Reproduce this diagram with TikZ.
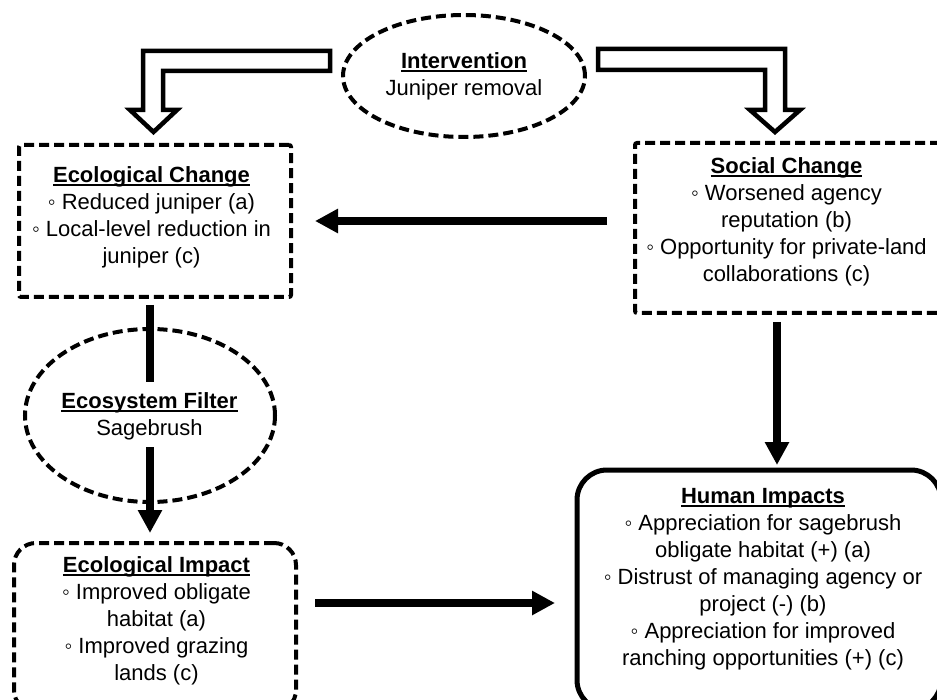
\documentclass[tikz,border=0pt]{standalone}
\usepackage{fontspec}
\setmainfont{Liberation Sans}
\usetikzlibrary{arrows.meta,shapes.geometric}
\newcommand\ttl[1]{\setbox0\hbox{\bfseries #1}\rlap{\rule[-3.5pt]{\wd0}{1.8pt}}\box0}
\begin{document}
\begin{tikzpicture}[x=1pt,y=-1pt,
  every node/.style={inner sep=0pt, outer sep=0pt},
  txt/.style={align=center, font=\fontsize{22}{27}\selectfont},
  dashline/.style={line width=4pt, dash pattern=on 10pt off 5pt},
  dbox/.style={draw, dashline, rectangle, rounded corners=2pt},
  dround/.style={draw, dashline, rectangle, rounded corners=22pt},
  dell/.style={draw, dashline, ellipse},
  sbox/.style={draw, line width=5pt, rectangle, rounded corners=30pt},
  arr/.style={line width=8pt, -{Triangle[length=23pt,width=23pt]}},
  bar/.style={line width=8pt},
  hollow/.style={draw, line width=4.5pt, fill=white, line join=miter}]
\clip (0,0) rectangle (937,700);
\fill[white] (0,0) rectangle (937,700);

% shapes
\node[dell, minimum width=242pt, minimum height=122pt] (intv) at (464,76) {};
\node[dbox, minimum width=272pt, minimum height=152pt] (ecoch) at (155,221) {};
\node[dbox, minimum width=307pt, minimum height=170pt] (social) at (788.5,228) {};
\node[dell, minimum width=250pt, minimum height=173pt] (filter) at (150,415.5) {};
\node[dround, minimum width=282pt, minimum height=169pt] (ecoimp) at (155,627.5) {};
\node[sbox, minimum width=364pt, minimum height=240pt] (human) at (759,590) {};

% texts
\node[txt] (intvt) at (464,76.3) {\ttl{Intervention}\\Juniper removal};
\node[txt] (ecocht) at (151.5,217) {\ttl{Ecological Change}\\◦ Reduced juniper (a)\\◦ Local-level reduction in\\juniper (c)};
\node[txt] (socialt) at (786.5,222) {\ttl{Social Change}\\◦ Worsened agency\\reputation (b)\\◦ Opportunity for private-land\\collaborations (c)};
\node[txt] (filtert) at (149.5,416) {\ttl{Ecosystem Filter}\\Sagebrush};
\node[txt] (ecoimpt) at (156.5,621) {\ttl{Ecological Impact}\\◦ Improved obligate\\habitat (a)\\◦ Improved grazing\\lands (c)};
\node[txt] (humant) at (763,579) {\ttl{Human Impacts}\\◦ Appreciation for sagebrush\\obligate habitat (+) (a)\\◦ Distrust of managing agency or\\project (-) (b)\\◦ Appreciation for improved\\ranching opportunities (+) (c)};

% hollow arrows from the intervention
\draw[hollow] (330,51) -- (143,51) -- (143,110) -- (130,110) -- (153.5,132) -- (177,110) -- (163,110) -- (163,71) -- (330,71) -- cycle;
\draw[hollow] (598,49) -- (785,49) -- (785,110) -- (800,110) -- (775,132) -- (750,110) -- (765,110) -- (765,70) -- (598,70) -- cycle;

% solid connectors
\draw[arr, shorten <=28pt, shorten >=24pt] (social.west |- ecoch.east) -- (ecoch.east);
\draw[bar, shorten <=8pt] (ecoch.south -| filter.north) -- ([yshift=-53pt]filter.north);
\draw[arr, shorten >=10pt] ([yshift=55pt]filter.south) -- (ecoimp.north -| filter.south);
\coordinate (sx) at (777,0);
\draw[arr, shorten <=9pt, shorten >=5pt] (social.south -| sx) -- (human.north -| sx);
\coordinate (ey) at (0,603);
\draw[arr, shorten <=19pt, shorten >=22pt] (ecoimp.east |- ey) -- (human.west |- ey);
\end{tikzpicture}
\end{document}
